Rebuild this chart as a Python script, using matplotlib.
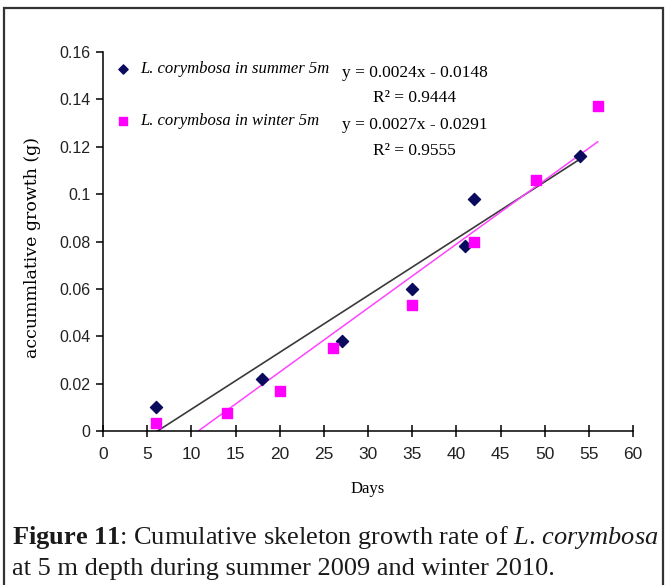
import matplotlib
matplotlib.use('Agg')
import matplotlib.pyplot as plt
from matplotlib.patches import Rectangle

# cumulative growth (g) of L. corymbosa at 5 m, read per sampling day
summer_days = [6, 18, 27, 35, 41, 42, 54]
summer_growth = [0.010, 0.022, 0.038, 0.060, 0.078, 0.098, 0.116]
winter_days = [6, 14, 20, 26, 35, 42, 49, 56]
winter_growth = [0.0035, 0.0075, 0.017, 0.035, 0.053, 0.080, 0.106, 0.137]

# linear trendlines as given on the chart
summer_fit = (0.0024, -0.0148, 0.9444)
winter_fit = (0.0027, -0.0291, 0.9555)

x_ticks = list(range(0, 61, 5))
y_ticks = [0, 0.02, 0.04, 0.06, 0.08, 0.1, 0.12, 0.14, 0.16]
y_tick_labels = ['0', '0.02', '0.04', '0.06', '0.08', '0.1', '0.12', '0.14', '0.16']

plt.rcParams['mathtext.fontset'] = 'custom'
plt.rcParams['mathtext.rm'] = 'Liberation Serif'
plt.rcParams['mathtext.it'] = 'Liberation Serif:italic'
plt.rcParams['mathtext.bf'] = 'Liberation Serif:bold'

fig = plt.figure(figsize=(6.66, 5.85), dpi=100)
ax = fig.add_axes([0.1547, 0.2632, 0.7958, 0.6479])

navy = '#0b0b5e'
pink = '#ff00ff'


def trend(fit, days):
    # line from first to last day, starting where it crosses zero
    m, b, r2 = fit
    x0 = max(min(days), -b / m)
    x1 = max(days)
    return [x0, x1], [m * x0 + b, m * x1 + b]


xs, ys = trend(summer_fit, summer_days)
ax.plot(xs, ys, color='#3a3a3a', lw=1.2, zorder=2)
xs, ys = trend(winter_fit, winter_days)
ax.plot(xs, ys, color='#ff44ff', lw=1.1, zorder=2)

ax.scatter(summer_days, summer_growth, marker='D', s=38, color=navy, zorder=3)
ax.scatter(winter_days, winter_growth, marker='s', s=60, color=pink, zorder=3)

ax.set_xlim(0, 60)
ax.set_ylim(0, 0.16)
ax.set_xticks(x_ticks)
ax.set_yticks(y_ticks)
ax.set_yticklabels(y_tick_labels)
for s in ['top', 'right']:
    ax.spines[s].set_visible(False)
ax.spines['left'].set_linewidth(1.1)
ax.spines['bottom'].set_linewidth(1.1)
ax.tick_params(axis='x', direction='inout', length=9, width=1.1, pad=7)
ax.tick_params(axis='y', direction='out', length=5, width=1.1, pad=4)
for lab in ax.get_xticklabels():
    lab.set_family('Liberation Sans')
    lab.set_fontsize(12.5)
    lab.set_color('#222222')
for lab in ax.get_yticklabels():
    lab.set_family('Liberation Sans')
    lab.set_fontsize(11.5)
    lab.set_color('#222222')

ax.set_xlabel('Days', family='Liberation Serif', fontsize=12, labelpad=14)
ax.set_ylabel('accummlative growth (g)', family='DejaVu Serif', fontsize=12.5)
ax.yaxis.set_label_coords(-0.117, 0.485)

# legend with the trendline equations beside it
ax.scatter([2.3], [0.1530], marker='D', s=22, color=navy, clip_on=False, zorder=4)
ax.scatter([2.3], [0.1310], marker='s', s=34, color=pink, clip_on=False, zorder=4)
leg_font = dict(family='Liberation Serif', fontsize=12, style='italic', va='center')
ax.text(4.2, 0.1530, 'L. corymbosa in summer 5m', **leg_font)
ax.text(4.2, 0.1310, 'L. corymbosa in winter 5m', **leg_font)
eq_font = dict(family='Liberation Serif', fontsize=12.5, va='center', ha='center')
for fit, y in [(summer_fit, 0.1510), (winter_fit, 0.1290)]:
    m, b, r2 = fit
    ax.text(35.3, y, f'y = {m:.4f}x - {abs(b):.4f}', **eq_font)
    ax.text(35.3, y - 0.0106, f'R² = {r2:.4f}', **eq_font)

fig.text(0.018, 0.082, r'$\mathbf{Figure\ 11}$: Cumulative skeleton growth rate of $\mathit{L.\,corymbosa}$',
         family='Liberation Serif', fontsize=19, va='center', color='#1a1a1a')
fig.text(0.018, 0.027, 'at 5 m depth during summer 2009 and winter 2010.',
         family='Liberation Serif', fontsize=19, va='center', color='#1a1a1a')

fig.patches.append(Rectangle((0.006, -0.02), 0.989, 1.006, transform=fig.transFigure,
                             fill=False, edgecolor='#333333', lw=1.6))

fig.savefig('out.png', dpi=100)
